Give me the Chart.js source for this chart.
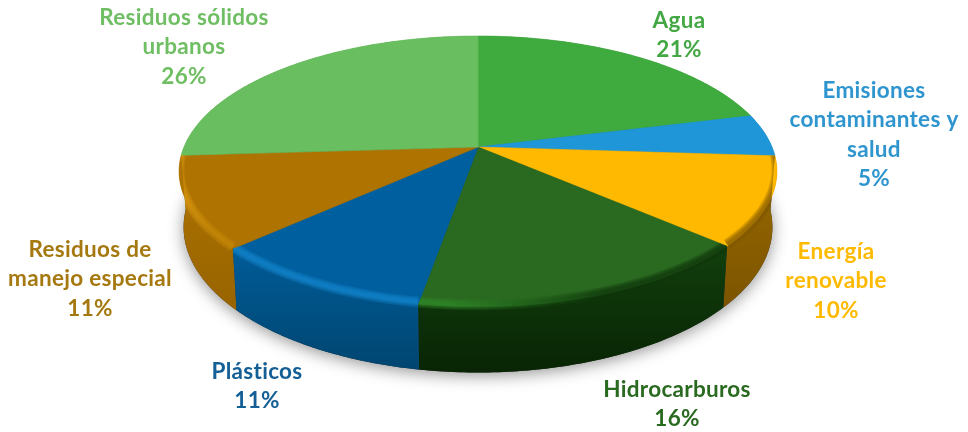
<!DOCTYPE html>
<html lang="es">
<head>
<meta charset="utf-8">
<title>Distribución por tema</title>
<script src="https://cdn.jsdelivr.net/npm/chart.js@4"></script>
<style>
html,body{margin:0;padding:0;background:#fff}
canvas{display:block;filter:blur(0.45px)}
</style>
</head>
<body>
<canvas id="c" width="968" height="432"></canvas>
<script>
const categories = [
  ['Agua'],
  ['Emisiones', 'contaminantes y', 'salud'],
  ['Energía', 'renovable'],
  ['Hidrocarburos'],
  ['Plásticos'],
  ['Residuos de', 'manejo especial'],
  ['Residuos sólidos', 'urbanos']
];
const values = [21, 5, 10, 16, 11, 11, 26];
const faceColors = ['#3FAB3F', '#1E96D8', '#FFB900', '#2A6A20', '#005F9E', '#AE7300', '#69BE5F'];
const textColors = ['#43A843', '#2F95CE', '#FFBA00', '#2A6A20', '#135F96', '#A67910', '#70BE64'];
const wallTop = ['#2F8A2F', '#16709F', '#9A6A00', '#123F0D', '#005C98', '#AE7300', '#52A048'];
const wallBottom = ['#2F8A2F', '#16709F', '#7C5400', '#082404', '#004570', '#986400', '#52A048'];
const bevelLeft = [null, null, '#7A5200', '#2F8A28', '#1488D0', '#DE9A12', null];
const bevelRight = [null, null, '#7A5200', '#0C3208', '#1488D0', '#C88A08', null];
const labelCenters = [[679, 21], [874, 91], [836, 252], [677, 390], [257, 372], [90, 250], [184, 18]];

const STRETCH_X = 2.0, STRETCH_Y = 0.891, TILT = 0.18, DEPTH = 0.367, BASE_SHRINK = 0.985;
const WARP = 0.06, WARP_CENTRE = 70 * Math.PI / 180;
const BEVEL_WIDTHS = [11, 9, 7, 5, 3];

function project(el, angle) {
  const a = angle + WARP * Math.pow(Math.max(0, Math.cos(angle - WARP_CENTRE)), 3);
  const w = 1 - TILT * Math.sin(a), r = el.outerRadius;
  const x = el.x + r * STRETCH_X * Math.cos(a) / w;
  const y = el.y + r * STRETCH_Y * Math.sin(a) / w;
  return {
    x, y,
    bx: el.x + (x - el.x) * BASE_SHRINK,
    by: y + r * DEPTH / w
  };
}
function samples(el, from, to) {
  const n = Math.max(2, Math.ceil(Math.abs(to - from) / 0.015)), out = [];
  for (let i = 0; i <= n; i++) out.push(project(el, from + (to - from) * i / n));
  return out;
}
function trace(ctx, pts, xk, yk, move) {
  pts.forEach((p, i) => (i === 0 && move) ? ctx.moveTo(p[xk], p[yk]) : ctx.lineTo(p[xk], p[yk]));
}

const pie3d = {
  id: 'pie3d',
  beforeDatasetDraw(chart, args) {
    const ctx = chart.ctx, arcs = chart.getDatasetMeta(args.index).data;
    const first = arcs[0];
    ctx.save();

    // soft shadow under the disc
    const base = samples(first, 0, Math.PI * 2);
    ctx.save();
    ctx.shadowColor = 'rgba(0,0,0,0.42)';
    ctx.shadowBlur = 16;
    ctx.shadowOffsetY = 3;
    ctx.fillStyle = '#333';
    ctx.beginPath();
    trace(ctx, base, 'bx', 'by', true);
    ctx.closePath();
    ctx.fill();
    ctx.restore();

    // side walls, back to front
    const order = arcs.map((el, i) => i).sort((p, q) =>
      Math.sin((arcs[p].startAngle + arcs[p].endAngle) / 2) -
      Math.sin((arcs[q].startAngle + arcs[q].endAngle) / 2));
    order.forEach(i => {
      const el = arcs[i], pts = samples(el, el.startAngle, el.endAngle);
      const ys = pts.flatMap(p => [p.y, p.by]);
      const g = ctx.createLinearGradient(0, Math.min(...ys), 0, Math.max(...ys));
      g.addColorStop(0, wallTop[i]);
      g.addColorStop(1, wallBottom[i]);
      ctx.fillStyle = g;
      ctx.beginPath();
      trace(ctx, pts, 'x', 'y', true);
      trace(ctx, pts.slice().reverse(), 'bx', 'by', false);
      ctx.closePath();
      ctx.fill();
    });

    // top faces
    arcs.forEach((el, i) => {
      const pts = samples(el, el.startAngle, el.endAngle);
      ctx.fillStyle = faceColors[i];
      ctx.strokeStyle = faceColors[i];
      ctx.lineWidth = 0.6;
      ctx.beginPath();
      ctx.moveTo(el.x, el.y);
      trace(ctx, pts, 'x', 'y', false);
      ctx.closePath();
      ctx.fill();
      ctx.stroke();
    });

    // rounded bevel along the front rim, built from stacked soft strokes
    arcs.forEach((el, i) => {
      if (!bevelLeft[i]) return;
      const pts = samples(el, el.startAngle, el.endAngle);
      ctx.save();
      ctx.beginPath();
      ctx.moveTo(el.x, el.y);
      trace(ctx, pts, 'x', 'y', false);
      ctx.closePath();
      trace(ctx, pts, 'bx', 'by', true);
      trace(ctx, pts.slice().reverse(), 'x', 'y', false);
      ctx.closePath();
      ctx.clip();
      const xs = pts.map(p => p.x);
      const g = ctx.createLinearGradient(Math.min(...xs), 0, Math.max(...xs), 0);
      g.addColorStop(0.1, bevelLeft[i]);
      g.addColorStop(0.6, bevelRight[i]);
      ctx.strokeStyle = g;
      ctx.globalAlpha = 0.22;
      ctx.lineJoin = 'round';
      BEVEL_WIDTHS.forEach(width => {
        ctx.lineWidth = width;
        ctx.beginPath();
        pts.forEach((p, k) => k ? ctx.lineTo(p.x, p.y - 2) : ctx.moveTo(p.x, p.y - 2));
        ctx.stroke();
      });
      ctx.restore();
    });
    ctx.restore();
    return false;
  },
  afterDraw(chart) {
    const ctx = chart.ctx;
    ctx.save();
    ctx.textAlign = 'center';
    ctx.textBaseline = 'middle';
    ctx.font = 'bold 22.5px Lato, "Open Sans", sans-serif';
    ctx.letterSpacing = '0.3px';
    categories.forEach((lines, i) => {
      ctx.fillStyle = textColors[i];
      const [x, y] = labelCenters[i];
      [...lines, values[i] + '%'].forEach((t, k) => ctx.fillText(t, x, y + k * 29.2));
    });
    ctx.restore();
  }
};

new Chart(document.getElementById('c'), {
  type: 'pie',
  data: {
    labels: categories,
    datasets: [{ data: values, backgroundColor: faceColors, borderWidth: 0 }]
  },
  options: {
    responsive: false,
    animation: false,
    events: [],
    rotation: 0,
    layout: { padding: { left: 0, right: 12, top: 0, bottom: 138 } },
    plugins: { legend: { display: false }, tooltip: { enabled: false } }
  },
  plugins: [pie3d]
});
</script>
</body>
</html>
